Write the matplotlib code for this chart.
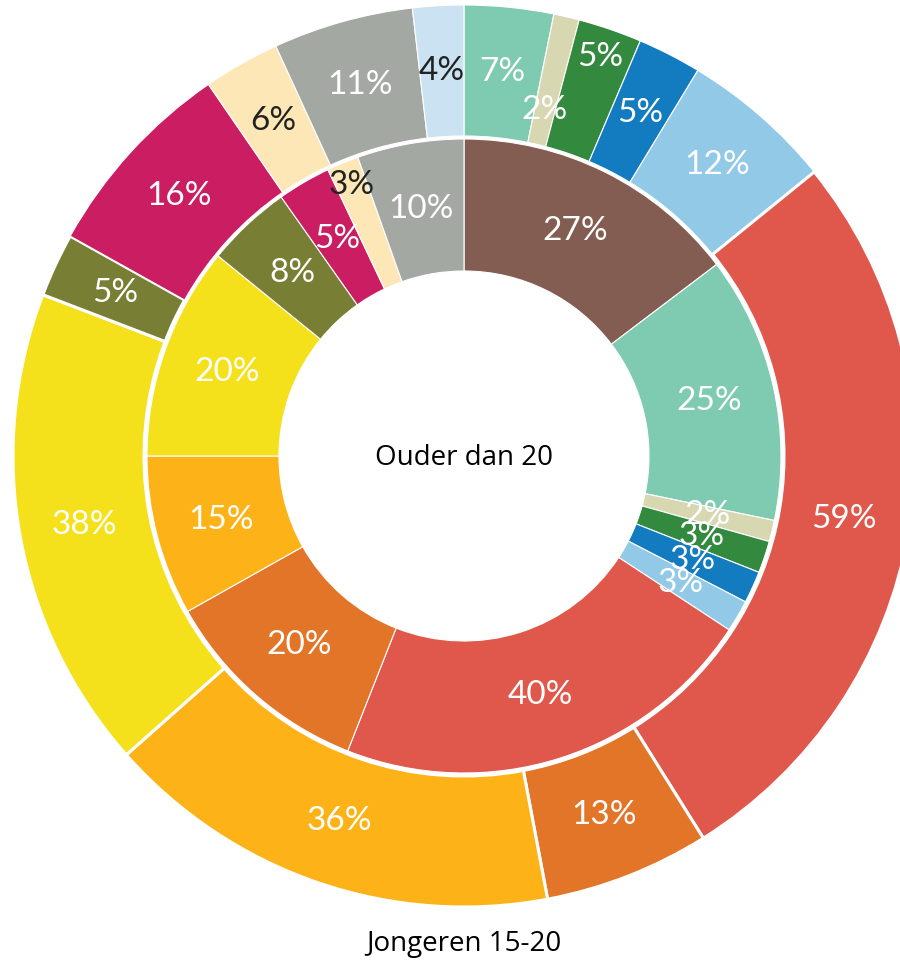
import numpy as np
import matplotlib
matplotlib.use('Agg')
import matplotlib.pyplot as plt

# categories (named after their colour), same order in both rings
keys = ['brown', 'teal', 'beige', 'green', 'blue', 'lightblue', 'red', 'orange',
        'orangeyellow', 'yellow', 'olive', 'magenta', 'cream', 'gray', 'paleblue']
colors = ['#845D52', '#7ECBB2', '#D7D7B2', '#338A3F', '#137BC0', '#92C9E7', '#E0574C', '#E27527',
          '#FDB318', '#F5E11B', '#787E33', '#CA1D62', '#FEE7B6', '#A4A8A3', '#CBE2F3']

# inner ring: Ouder dan 20
inner_values = [27, 25, 2, 3, 3, 3, 40, 20, 15, 20, 8, 5, 3, 10, 0]
# outer ring: Jongeren 15-20
outer_values = [0, 7, 2, 5, 5, 12, 59, 13, 36, 38, 5, 16, 6, 11, 4]

inner_title = 'Ouder dan 20'
outer_title = 'Jongeren 15-20'

dark_text = ['cream', 'paleblue']
thick_edges = ['red', 'orange', 'orangeyellow', 'yellow', 'olive']
# radial label shifts (px) to keep crowded labels apart
inner_nudge = {'cream': 42}
outer_nudge = {'beige': -30, 'green': 36}

R = 451.0  # px per data unit
fig = plt.figure(figsize=(9, 9.61), dpi=100)
ax = fig.add_axes([0, 0, 1, 1])


def ring(values, radius, width, thick, nudge):
    keep = [i for i, v in enumerate(values) if v > 0]
    wedges, _ = ax.pie([values[i] for i in keep], radius=radius,
                       colors=[colors[i] for i in keep], startangle=90, counterclock=False,
                       wedgeprops=dict(width=width, edgecolor='white', linewidth=0.8))
    for w, i in zip(wedges, keep):
        if keys[i] in thick:
            w.set_linewidth(2.2)
        mid = np.deg2rad((w.theta1 + w.theta2) / 2)
        r = radius - width / 2 + nudge.get(keys[i], 0) / R
        col = '#222222' if keys[i] in dark_text else 'white'
        ax.text(r * np.cos(mid), r * np.sin(mid), '{}%'.format(values[i]),
                ha='center', va='center', color=col, fontsize=24, family='Lato')


ring(inner_values, 317 / R, (317 - 185) / R, [], inner_nudge)
ring(outer_values, 1.0, (451 - 320) / R, thick_edges, outer_nudge)

ax.text(0, -2 / R, inner_title, ha='center', va='center', fontsize=20, family='Open Sans', color='black')
ax.text(0, -488 / R, outer_title, ha='center', va='center', fontsize=20, family='Open Sans', color='black')

ax.set_xlim(-464 / R, (900 - 464) / R)
ax.set_ylim((456 - 961) / R, 456 / R)
ax.axis('off')

fig.savefig('out.png', dpi=100)
